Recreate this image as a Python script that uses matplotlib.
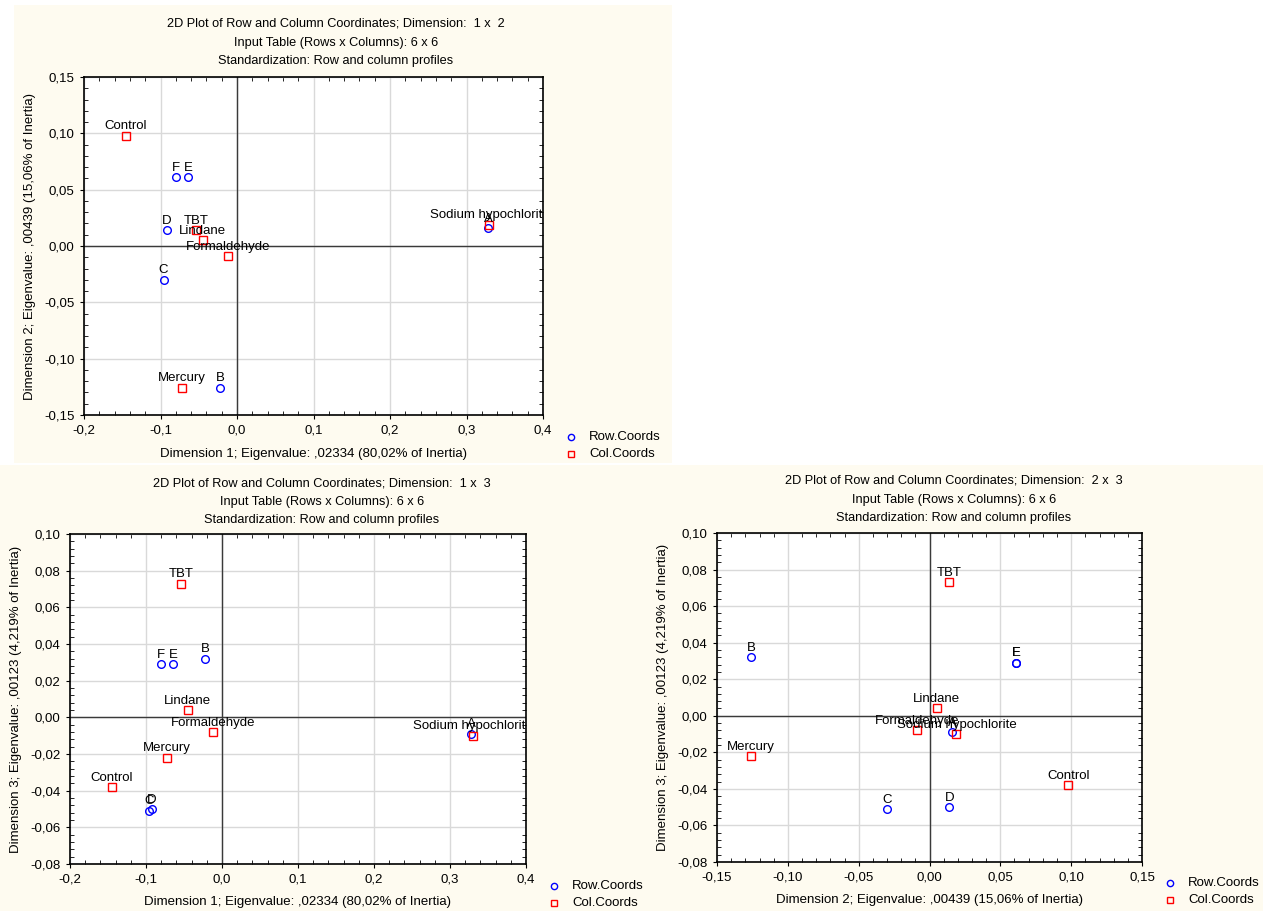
import numpy as np
import matplotlib
matplotlib.use("Agg")
import matplotlib.pyplot as plt
from matplotlib.patches import Rectangle
from matplotlib.ticker import AutoMinorLocator, FuncFormatter, MultipleLocator

plt.rcParams['font.family'] = ['Liberation Sans', 'DejaVu Sans']

# row coordinates (samples)
row_names = ['A', 'B', 'C', 'D', 'E', 'F']
row_dim1 = [0.328, -0.022, -0.096, -0.092, -0.064, -0.080]
row_dim2 = [0.016, -0.126, -0.030, 0.014, 0.061, 0.061]
row_dim3 = [-0.009, 0.032, -0.051, -0.050, 0.029, 0.029]

# column coordinates (treatments)
col_names = ['Control', 'TBT', 'Lindane', 'Formaldehyde', 'Mercury', 'Sodium hypochlorite']
col_dim1 = [-0.145, -0.054, -0.045, -0.012, -0.072, 0.330]
col_dim2 = [0.098, 0.014, 0.005, -0.009, -0.126, 0.019]
col_dim3 = [-0.038, 0.073, 0.004, -0.008, -0.022, -0.010]

dim_labels = {
    1: 'Dimension 1; Eigenvalue: ,02334 (80,02% of Inertia)',
    2: 'Dimension 2; Eigenvalue: ,00439 (15,06% of Inertia)',
    3: 'Dimension 3; Eigenvalue: ,00123 (4,219% of Inertia)',
}
row_dims = {1: row_dim1, 2: row_dim2, 3: row_dim3}
col_dims = {1: col_dim1, 2: col_dim2, 3: col_dim3}

cream = '#fefbf0'
W, H = 1263, 911
fig = plt.figure(figsize=(W / 100, H / 100), dpi=100, facecolor='white')


def px(x0, y0, x1, y1):
    # pixel box -> figure fraction [left, bottom, width, height]
    return [x0 / W, 1 - y1 / H, (x1 - x0) / W, (y1 - y0) / H]


# panel backgrounds
for box in [(14, 5, 672, 463), (0, 465, 645, 911), (645, 465, 1263, 911)]:
    l, b, w, h = px(*box)
    fig.patches.append(Rectangle((l, b), w, h, transform=fig.transFigure,
                                 facecolor=cream, edgecolor='none', zorder=-10))


def comma_fmt(dec):
    return FuncFormatter(lambda v, p: f'{v:.{dec}f}'.replace('.', ','))


def panel(box, dx, dy, xlim, ylim, xstep, ystep, xdec, ydec, title_cx, title_y, leg_xy, xlab_y):
    ax = fig.add_axes(px(*box))
    ax.set_facecolor('white')
    ax.set_xlim(xlim)
    ax.set_ylim(ylim)
    ax.xaxis.set_major_locator(MultipleLocator(xstep))
    ax.yaxis.set_major_locator(MultipleLocator(ystep))
    ax.xaxis.set_minor_locator(AutoMinorLocator(5))
    ax.yaxis.set_minor_locator(AutoMinorLocator(5))
    ax.xaxis.set_major_formatter(comma_fmt(xdec))
    ax.yaxis.set_major_formatter(comma_fmt(ydec))
    ax.tick_params(which='major', direction='out', length=3, labelsize=9.5, pad=4)
    ax.tick_params(which='minor', direction='in', length=3, top=True, right=True)
    ax.grid(True, which='major', color='#d9d9d9', lw=1, zorder=0.5)
    ax.axhline(0, color='#3a3a3a', lw=1, zorder=2)
    ax.axvline(0, color='#3a3a3a', lw=1, zorder=2)
    for s in ax.spines.values():
        s.set_linewidth(1.2)
        s.set_color('black')

    rx, ry = row_dims[dx], row_dims[dy]
    cx, cy = col_dims[dx], col_dims[dy]
    ax.plot(rx, ry, 'o', mfc='none', mec='blue', ms=5.5, mew=1, ls='none', zorder=3)
    ax.plot(cx, cy, 's', mfc='none', mec='red', ms=5.5, mew=1, ls='none', zorder=3)
    for n, x, y in list(zip(row_names, rx, ry)) + list(zip(col_names, cx, cy)):
        ax.annotate(n, (x, y), xytext=(0, 2.5), textcoords='offset points',
                    ha='center', va='bottom', fontsize=9.5, annotation_clip=False,
                    clip_on=True, zorder=4)

    # axis titles placed at fixed pixel positions
    fig.text((box[0] + box[2]) / 2 / W, 1 - xlab_y / H, dim_labels[dx],
             ha='center', va='center', fontsize=9.5)
    ax.set_ylabel(dim_labels[dy], fontsize=9.5, labelpad=6)

    titles = ['2D Plot of Row and Column Coordinates; Dimension:  %d x  %d' % (dx, dy),
              'Input Table (Rows x Columns): 6 x 6',
              'Standardization: Row and column profiles']
    for t, yy in zip(titles, title_y):
        fig.text(title_cx / W, 1 - yy / H, t, ha='center', va='center', fontsize=9.2)

    # legend outside the plot area
    lx, ly = leg_xy
    for i, (m, c, lab) in enumerate([('o', 'blue', 'Row.Coords'), ('s', 'red', 'Col.Coords')]):
        yy = 1 - (ly + i * 17) / H
        fig.lines.append(plt.Line2D([lx / W], [yy], marker=m, mfc='none', mec=c, ms=4.5,
                                    mew=1, ls='none', transform=fig.transFigure))
        fig.text((lx + 18) / W, yy, lab, ha='left', va='center', fontsize=9.5)
    return ax


panel((84, 77, 543, 415), 1, 2, (-0.2, 0.4), (-0.15, 0.15), 0.1, 0.05, 1, 2,
      336, (24, 43, 61), (571, 437), 454)
panel((70, 534, 526, 864), 1, 3, (-0.2, 0.4), (-0.08, 0.10), 0.1, 0.02, 1, 2,
      322, (483, 502, 520), (554, 886), 902)
panel((717, 533, 1142, 862), 2, 3, (-0.15, 0.15), (-0.08, 0.10), 0.05, 0.02, 2, 2,
      954, (481, 500, 518), (1170, 883), 900)

fig.savefig('out.png', dpi=100, facecolor=fig.get_facecolor())
